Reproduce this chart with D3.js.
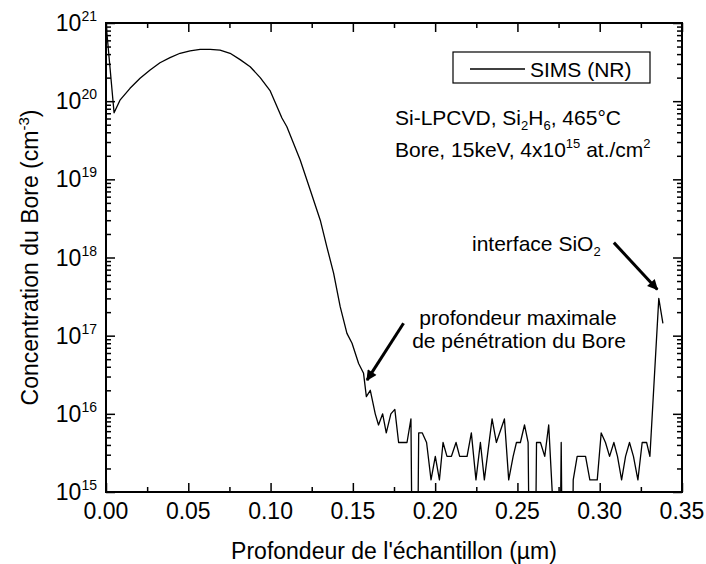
<!DOCTYPE html>
<html>
<head>
<meta charset="utf-8">
<script src="https://cdn.jsdelivr.net/npm/d3@7"></script>
<style>
  body { margin: 0; background: #fff; }
  text { font-family: "Liberation Sans", Arial, sans-serif; fill: #000; }
</style>
</head>
<body>
<svg width="706" height="564"></svg>
<script>
// SIMS boron profile, depth in µm, concentration in cm^-3 (0 = no counts)
var depth = [0.0000, 0.0049, 0.0085, 0.0146, 0.0207, 0.0268, 0.0328, 0.0389, 0.0450, 0.0511,
  0.0572, 0.0633, 0.0693, 0.0754, 0.0815, 0.0876, 0.0937, 0.0998, 0.1069, 0.1099,
  0.1180, 0.1241, 0.1302, 0.1342, 0.1383, 0.1423,
  0.1464, 0.1495, 0.1535, 0.1565, 0.1582, 0.1606, 0.1636, 0.1656, 0.1681, 0.1703,
  0.1731, 0.1755, 0.1778, 0.1804, 0.1829, 0.1853, 0.1877, 0.1900, 0.1922, 0.1948,
  0.1975, 0.2001, 0.2026, 0.2048, 0.2072, 0.2099, 0.2127, 0.2149, 0.2172, 0.2194,
  0.2220, 0.2248, 0.2275, 0.2299, 0.2346, 0.2372, 0.2421, 0.2447, 0.2474, 0.2494,
  0.2518, 0.2543, 0.2565, 0.2591, 0.2616, 0.2640, 0.2666, 0.2690, 0.2717, 0.2740,
  0.2766, 0.2790, 0.2815, 0.2839, 0.2863, 0.2888, 0.2914, 0.2940, 0.2962, 0.2985,
  0.3009, 0.3035, 0.3060, 0.3086, 0.3108, 0.3133, 0.3157, 0.3181, 0.3205, 0.3232,
  0.3258, 0.3285, 0.3305, 0.3359, 0.3384];
var conc = [1.0e21, 7.1e19, 1.03e20, 1.46e20, 1.96e20, 2.5e20, 3.1e20, 3.6e20, 4.1e20, 4.4e20,
  4.6e20, 4.6e20, 4.5e20, 4.1e20, 3.4e20, 2.76e20, 2.0e20, 1.35e20, 6.1e19, 4.7e19,
  1.77e19, 7.3e18, 3.0e18, 1.37e18, 6.3e17, 2.35e17,
  1.07e17, 8.0e16, 4.4e16, 3.3e16, 1.66e16, 2.0e16, 1.0e16, 7.2e15, 1.0e16, 5.7e15,
  1.0e16, 1.14e16, 4.3e15, 4.3e15, 4.3e15, 8.6e15, 0, 5.7e15, 5.7e15, 4.3e15,
  1.43e15, 2.86e15, 1.43e15, 4.3e15, 2.86e15, 2.86e15, 4.3e15, 2.86e15, 2.86e15, 2.86e15,
  5.7e15, 1.43e15, 4.3e15, 1.43e15, 8.6e15, 4.3e15, 8.6e15, 1.43e15, 2.86e15, 4.3e15,
  4.3e15, 7.2e15, 4.3e15, 0, 4.3e15, 4.3e15, 2.86e15, 7.2e15, 6e14, 0,
  4.3e15, 0, 0, 1.43e15, 2.86e15, 2.86e15, 2.86e15, 1.43e15, 1.43e15, 1.43e15,
  5.7e15, 4.3e15, 2.86e15, 4.3e15, 2.86e15, 1.43e15, 2.86e15, 4.3e15, 2.86e15, 1.43e15,
  4.3e15, 4.3e15, 2.86e15, 3.0e17, 1.44e17];

var xTicks = [0, 0.05, 0.10, 0.15, 0.20, 0.25, 0.30, 0.35];
var xMinor = [0.025, 0.075, 0.125, 0.175, 0.225, 0.275, 0.325];
var yExps = [15, 16, 17, 18, 19, 20, 21];

var svg = d3.select("svg");
var padL = 106, padT = 23, w = 576, h = 469;

var x = d3.scaleLinear().domain([0, 0.35]).range([padL, padL + w]);
var y = d3.scaleLog().domain([1e15, 1e21]).range([padT + h, padT]);

var yMajor = yExps.map(function(e) { return Math.pow(10, e); });
var yMinor = [];
for (var e = 15; e < 21; e++) {
  for (var m = 2; m <= 9; m++) yMinor.push(m * Math.pow(10, e));
}

// ticks, all pointing inward
function ticks(axisFn, scale, vals, size, tx) {
  svg.append("g")
    .attr("transform", tx)
    .call(axisFn(scale).tickValues(vals).tickSize(-size).tickSizeOuter(0).tickFormat(""))
    .call(function(g) { g.select(".domain").remove(); })
    .selectAll("line").attr("stroke", "#000").attr("stroke-width", 1.5);
}
ticks(d3.axisBottom, x, xTicks, 9, "translate(0," + (padT + h) + ")");
ticks(d3.axisBottom, x, xMinor, 5, "translate(0," + (padT + h) + ")");
ticks(d3.axisTop, x, xTicks, 9, "translate(0," + padT + ")");
ticks(d3.axisTop, x, xMinor, 5, "translate(0," + padT + ")");
ticks(d3.axisLeft, y, yMajor, 9, "translate(" + padL + ",0)");
ticks(d3.axisLeft, y, yMinor, 5, "translate(" + padL + ",0)");
ticks(d3.axisRight, y, yMajor, 9, "translate(" + (padL + w) + ",0)");
ticks(d3.axisRight, y, yMinor, 5, "translate(" + (padL + w) + ",0)");

// x labels
svg.append("g").selectAll("text").data(xTicks).join("text")
  .attr("x", function(d) { return x(d); })
  .attr("y", padT + h + 27)
  .attr("text-anchor", "middle")
  .attr("font-size", 23)
  .text(d3.format(".2f"));

// y labels 10^n
var yl = svg.append("g").selectAll("text").data(yExps).join("text")
  .attr("x", 97)
  .attr("y", function(d) { return y(Math.pow(10, d)) + 8; })
  .attr("text-anchor", "end")
  .attr("font-size", 23);
yl.append("tspan").text("10");
yl.append("tspan").attr("font-size", 14).attr("dy", -10).text(function(d) { return d; });

// data line
svg.append("clipPath").attr("id", "plot")
  .append("rect").attr("x", padL).attr("y", padT).attr("width", w).attr("height", h);

var pts = depth.map(function(d, i) { return [d, conc[i]]; });
var line = d3.line()
  .x(function(d) { return x(d[0]); })
  .y(function(d) { return y(d[1] > 0 ? d[1] : 1e10); });

svg.append("path")
  .datum(pts)
  .attr("clip-path", "url(#plot)")
  .attr("fill", "none")
  .attr("stroke", "#000")
  .attr("stroke-width", 1.3)
  .attr("stroke-linejoin", "round")
  .attr("d", line);

// frame
svg.append("rect")
  .attr("x", padL).attr("y", padT).attr("width", w).attr("height", h)
  .attr("fill", "none").attr("stroke", "#000").attr("stroke-width", 2);

// axis titles
svg.append("text")
  .attr("x", padL + w / 2).attr("y", 559)
  .attr("text-anchor", "middle").attr("font-size", 23)
  .text("Profondeur de l'\u00e9chantillon (\u00b5m)");

var yt = svg.append("text")
  .attr("transform", "translate(38," + (padT + h / 2) + ") rotate(-90)")
  .attr("text-anchor", "middle").attr("font-size", 23);
yt.append("tspan").text("Concentration du Bore (cm");
yt.append("tspan").attr("font-size", 15).attr("dy", -9).text("-3");
yt.append("tspan").attr("dy", 9).text(")");

// legend
svg.append("rect").attr("x", 453).attr("y", 52).attr("width", 197).attr("height", 31)
  .attr("fill", "#fff").attr("stroke", "#000").attr("stroke-width", 1.2);
svg.append("line").attr("x1", 470).attr("x2", 525).attr("y1", 69).attr("y2", 69)
  .attr("stroke", "#000").attr("stroke-width", 1.3);
svg.append("text").attr("x", 530).attr("y", 77).attr("font-size", 21).text("SIMS (NR)");

// conditions
var t1 = svg.append("text").attr("x", 395).attr("y", 125).attr("font-size", 21);
t1.append("tspan").text("Si-LPCVD, Si");
t1.append("tspan").attr("font-size", 13).attr("dy", 5).text("2");
t1.append("tspan").attr("dy", -5).text("H");
t1.append("tspan").attr("font-size", 13).attr("dy", 5).text("6");
t1.append("tspan").attr("dy", -5).text(", 465\u00b0C");

var t2 = svg.append("text").attr("x", 395).attr("y", 157).attr("font-size", 21);
t2.append("tspan").text("Bore, 15keV, 4x10");
t2.append("tspan").attr("font-size", 13).attr("dy", -9).text("15");
t2.append("tspan").attr("dy", 9).text(" at./cm");
t2.append("tspan").attr("font-size", 13).attr("dy", -9).text("2");

// annotations with arrows
svg.append("defs").append("marker")
  .attr("id", "head").attr("viewBox", "0 0 10 10")
  .attr("refX", 9).attr("refY", 5)
  .attr("markerWidth", 4.5).attr("markerHeight", 3.5)
  .attr("orient", "auto")
  .append("path").attr("d", "M0,0 L10,5 L0,10 z").attr("fill", "#000");

function arrow(x0, y0, x1, y1) {
  svg.append("line")
    .attr("x1", x(x0)).attr("y1", y(y0)).attr("x2", x(x1)).attr("y2", y(y1))
    .attr("stroke", "#000").attr("stroke-width", 3)
    .attr("marker-end", "url(#head)");
}
arrow(0.1808, 1.44e17, 0.1586, 2.7e16);
arrow(0.3086, 1.55e18, 0.3350, 3.9e17);

var t3 = svg.append("text").attr("x", 472).attr("y", 251).attr("font-size", 21);
t3.append("tspan").text("interface SiO");
t3.append("tspan").attr("font-size", 13).attr("dy", 5).text("2");

svg.append("text").attr("x", 518).attr("y", 325).attr("text-anchor", "middle")
  .attr("font-size", 21).text("profondeur maximale");
svg.append("text").attr("x", 519).attr("y", 348).attr("text-anchor", "middle")
  .attr("font-size", 21).text("de p\u00e9n\u00e9tration du Bore");
</script>
</body>
</html>
